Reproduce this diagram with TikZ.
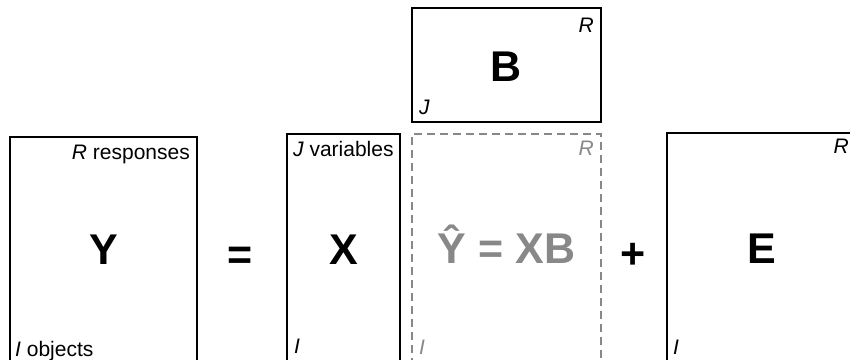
\documentclass[tikz,border=0pt]{standalone}
\usepackage{fontspec}
\setmainfont{Liberation Sans}

\begin{document}
\begin{tikzpicture}[x=1pt,y=1pt,
    mat/.style={draw=black,line width=2.6pt},
    fitbox/.style={draw=cG,line width=2.4pt,dash pattern=on 8pt off 5pt},
    big/.style={font=\fontsize{43}{50}\selectfont\bfseries,inner sep=0pt,anchor=base},
    lab/.style={font=\fontsize{21}{25}\selectfont,inner sep=0pt}]
  \definecolor{cG}{RGB}{136,136,136}
  \useasboundingbox (0,0) rectangle (850,359);
  \clip (0,0) rectangle (850,359);
  % matrices
  \draw[mat] (10,-20) rectangle (197,222);
  \draw[mat] (287,-20) rectangle (400,225);
  \draw[mat] (412,237) rectangle (601,351);
  \draw[fitbox] (412,-20) rectangle (601,225);
  \draw[mat] (667,-20) rectangle (857,226);
  % symbols
  \node[big] (Y) at (103.5,95) {Y};
  \node[big] (eq) at (240,89.5) {=};
  \node[big] (X) at (343.5,95) {X};
  \node[big] (B) at (506.5,277) {B};
  \node[big,cG] (Yhat) at (506.5,96) {Ŷ = XB};
  \node[big] (plus) at (633,90.5) {+};
  \node[big] (E) at (762,96) {E};
  % dimensions
  \node[lab,anchor=base east] (yR) at (190,199) {\itshape R\upshape{} responses};
  \node[lab,anchor=base west] (yI) at (15,3) {\itshape I\upshape{} objects};
  \node[lab,anchor=base west] (xJ) at (293,202) {\itshape J\upshape{} variables};
  \node[lab,anchor=base west] (xI) at (294,6) {\itshape I};
  \node[lab,anchor=base east] (bR) at (594,326) {\itshape R};
  \node[lab,anchor=base west] (bJ) at (419,244) {\itshape J};
  \node[lab,cG,anchor=base east] (hR) at (594,203) {\itshape R};
  \node[lab,cG,anchor=base west] (hI) at (419,5) {\itshape I};
  \node[lab,anchor=base east] (eR) at (849,205) {\itshape R};
  \node[lab,anchor=base west] (eI) at (673,5) {\itshape I};
\end{tikzpicture}
\end{document}
